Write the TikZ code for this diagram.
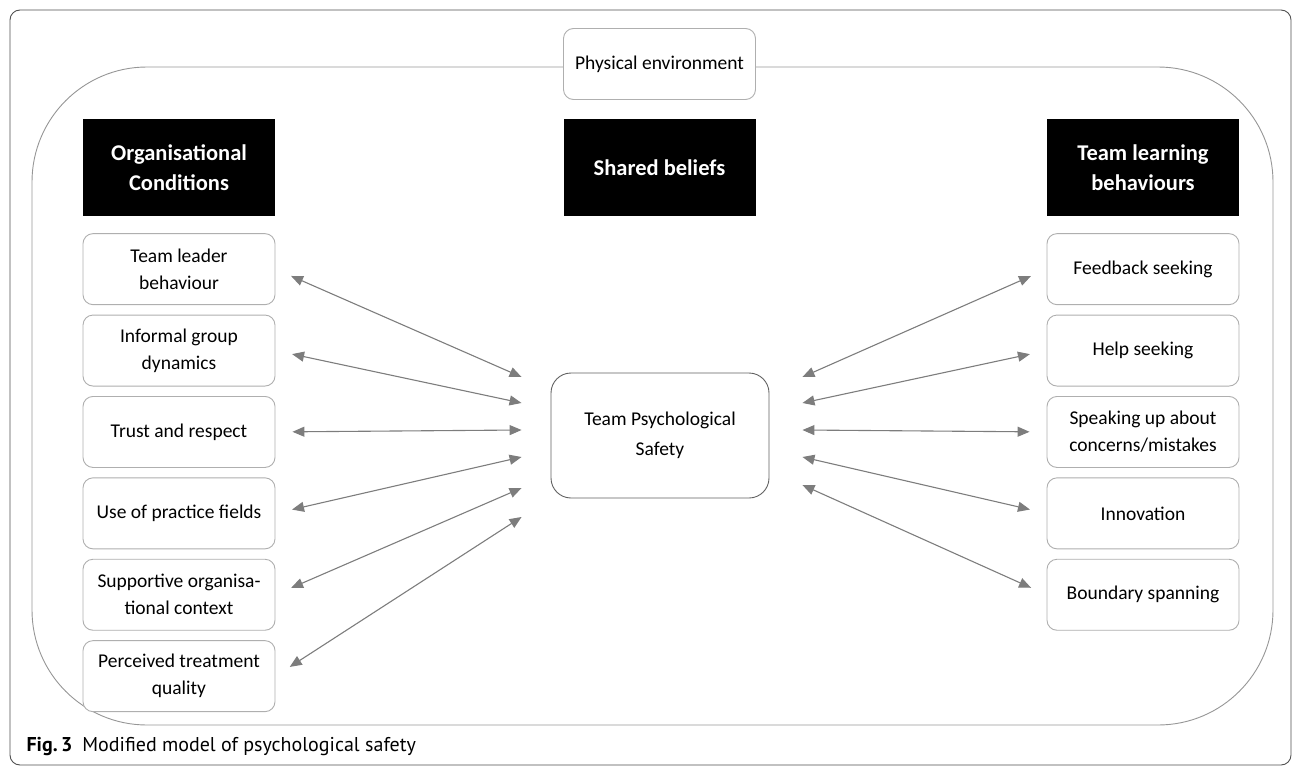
\documentclass[tikz,border=0pt]{standalone}
\usepackage{fontspec}
\setmainfont{Carlito}
\newfontfamily\capfont{PT Sans}
\usepackage{tikz}
\usetikzlibrary{positioning,arrows.meta}
\definecolor{boxgray}{RGB}{175,175,175}
\definecolor{framegray}{RGB}{150,150,150}
\definecolor{arrgray}{RGB}{125,125,125}
\definecolor{outergray}{RGB}{80,80,80}

\begin{document}
\begin{tikzpicture}[
    x=1pt, y=-1pt,
    node distance=9.5pt,
    head/.style={fill=black, text=white, minimum width=192pt, minimum height=97pt, align=center, font=\fontsize{22.5}{30}\selectfont\bfseries},
    item/.style={draw=boxgray, fill=white, rounded corners=10pt, line width=0.9pt, minimum width=192pt, minimum height=71pt, align=center, font=\fontsize{19.5}{27}\selectfont},
    arr/.style={{Triangle[length=12pt,width=10pt]}-{Triangle[length=12pt,width=10pt]}, arrgray, line width=1.1pt}
  ]
    \useasboundingbox (0,0) rectangle (1293,768);
    \draw[outergray, line width=0.9pt, rounded corners=10pt] (10,10) rectangle (1291,765);
    \draw[framegray, line width=0.9pt, rounded corners=115pt] (32,67) rectangle (1273,725);
    \node[item] (env) at (659.5,64) {Physical environment};
    \node[head] (org) at (179,167.5) {Organisational\\Conditions};
    \node[head] (shb) at (659.5,167.5) {Shared beliefs};
    \node[head] (tlb) at (1143,167.5) {Team learning\\behaviours};
    \node[item, below=17pt of org] (tlead) {Team leader\\behaviour};
    \node[item, below=of tlead] (igd) {Informal group\\dynamics};
    \node[item, below=of igd] (trust) {Trust and respect};
    \node[item, below=of trust] (prac) {Use of practice fields};
    \node[item, below=of prac] (supp) {Supportive organisa-\\tional context};
    \node[item, below=of supp] (ptq) {Perceived treatment\\quality};
    \node[item, below=17pt of tlb] (feed) {Feedback seeking};
    \node[item, below=of feed] (help) {Help seeking};
    \node[item, below=of help] (speak) {Speaking up about\\concerns/mistakes};
    \node[item, below=of speak] (innov) {Innovation};
    \node[item, below=of innov] (bound) {Boundary spanning};
    \node[draw=outergray!90, line width=0.9pt, rounded corners=20pt, minimum width=218pt, minimum height=125pt, align=center, font=\fontsize{19.5}{30}\selectfont] (tps) at (660,435.5) {Team Psychological\\Safety};
    \foreach \i/\dy in {1/58.5,2/32.5,3/5.5,4/-21.5,5/-52.5,6/-81.5}
      \coordinate (l\i) at ([xshift=-29pt,yshift=\dy pt]tps.west);
    \foreach \i/\dy in {1/58.5,2/32.5,3/5.5,4/-21.5,5/-49.5}
      \coordinate (r\i) at ([xshift=33pt,yshift=\dy pt]tps.east);
    \draw[arr, shorten <=17pt] (tlead.east) -- (l1);
    \draw[arr, shorten <=17pt] (igd.east) -- (l2);
    \draw[arr, shorten <=17pt] (trust.east) -- (l3);
    \draw[arr, shorten <=17pt] (prac.east) -- (l4);
    \draw[arr, shorten <=17pt] (supp.east) -- (l5);
    \draw[arr, shorten <=17pt] (ptq.east) -- (l6);
    \draw[arr, shorten >=17pt] (r1) -- (feed.west);
    \draw[arr, shorten >=17pt] (r2) -- (help.west);
    \draw[arr, shorten >=17pt] (r3) -- (speak.west);
    \draw[arr, shorten >=17pt] (r4) -- (innov.west);
    \draw[arr, shorten >=17pt] (r5) -- (bound.west);
    \node[anchor=west, font=\capfont\fontsize{20}{22}\selectfont] (cap) at (23,747) {\textbf{Fig.\,3}\hspace{10pt}Modified model of psychological safety};
  \end{tikzpicture}
\end{document}
